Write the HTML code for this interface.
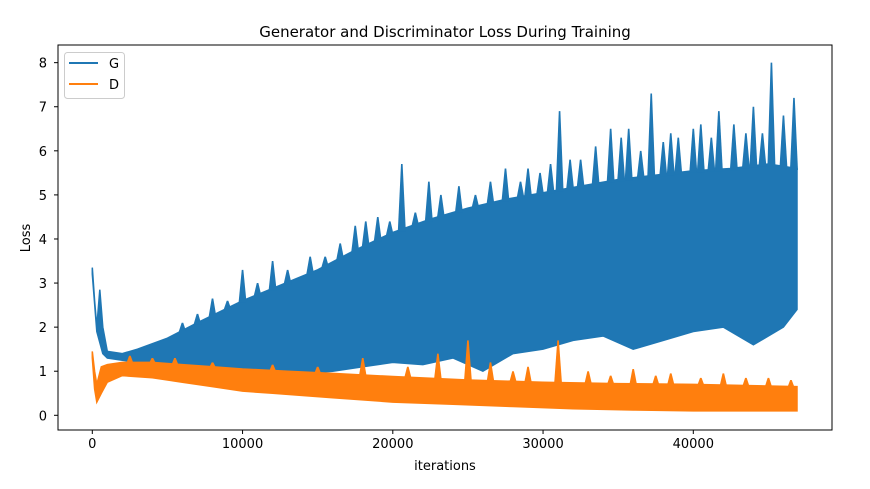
<!DOCTYPE html>
<html><head><meta charset="utf-8"><style>
body{margin:0;background:#fff;}
svg text{font-family:"DejaVu Sans","Liberation Sans",sans-serif;fill:#000;}
</style></head><body>
<svg width="870" height="484" viewBox="0 0 870 484">
<rect x="0" y="0" width="870" height="484" fill="#fff"/>
<g id="plot"></g>
<rect x="58" y="45" width="774" height="385" fill="none" stroke="#000" stroke-width="1"/>
<g id="ticks"></g>
<text x="445" y="37" font-size="15" text-anchor="middle">Generator and Discriminator Loss During Training</text>
<text x="445" y="470" font-size="13" text-anchor="middle">iterations</text>
<text x="30" y="238" font-size="13" text-anchor="middle" transform="rotate(-90 30 238)">Loss</text>
<g>
<rect x="64.5" y="52.5" width="60" height="46" rx="3" fill="#fff" fill-opacity="0.8" stroke="#ccc"/>
<g><line x1="69" y1="63" x2="98" y2="63" stroke="#1f77b4" stroke-width="2"/><text x="109" y="68" font-size="13">G</text></g>
<g><line x1="69" y1="84" x2="98" y2="84" stroke="#ff7f0e" stroke-width="2"/><text x="109" y="89" font-size="13">D</text></g>
</g>
</svg>
<script>
const xTicks=[0,10000,20000,30000,40000];
const yTicks=[0,1,2,3,4,5,6,7,8];
const gTopIter=[0,150,300,500,700,1000,2000,3000,5000,7000,10000,12500,15000,17500,20000,22500,25000,27500,30000,32500,35000,37500,40000,42500,45000,46900];
const gTop=[3.35,2.6,2.0,2.85,2.0,1.45,1.4,1.5,1.75,2.1,2.6,2.95,3.3,3.75,4.15,4.45,4.7,4.9,5.05,5.2,5.35,5.45,5.55,5.6,5.7,5.6];
const gMinIter=[0,300,700,1000,2000,3000,4000,5000,6000,7000,8000,10000,12000,14000,16000,18000,20000,22000,24000,26000,28000,30000,32000,34000,36000,38000,40000,42000,44000,46000,46900];
const gMin=[3.2,1.9,1.4,1.3,1.25,1.2,1.1,1.0,0.9,0.85,0.8,0.8,0.85,0.95,1.0,1.1,1.2,1.15,1.3,1.0,1.4,1.5,1.7,1.8,1.5,1.7,1.9,2.0,1.6,2.0,2.4];
const gSpikeIter=[6000,7000,8000,9000,10000,11000,12000,13000,14500,15500,16500,17500,18200,19000,19800,20600,21500,22400,23200,24400,25500,26500,27500,28500,29000,29800,30500,31100,31800,32500,33500,34500,35200,35700,36500,37200,38000,38500,39000,40000,40500,41200,41700,42700,43500,44000,44600,45200,46000,46700];
const gSpike=[2.1,2.3,2.65,2.6,3.3,3.0,3.5,3.3,3.6,3.6,3.9,4.3,4.4,4.5,4.4,5.7,4.6,5.3,5.0,5.2,5.0,5.3,5.6,5.3,5.6,5.5,5.7,6.9,5.8,5.8,6.1,6.5,6.3,6.5,6.0,7.3,6.2,6.4,6.3,6.5,6.6,6.3,6.9,6.6,6.4,7.0,6.4,8.0,6.8,7.2];
const dTopIter=[0,150,300,600,1000,2000,4000,6000,8000,10000,13000,16000,20000,25000,30000,35000,40000,46900];
const dTop=[1.45,1.0,0.7,1.1,1.15,1.2,1.2,1.15,1.1,1.05,1.0,0.95,0.88,0.8,0.75,0.72,0.7,0.65];
const dMinIter=[0,150,300,600,1000,2000,4000,6000,8000,10000,12000,14000,16000,18000,20000,24000,28000,32000,36000,40000,44000,46900];
const dMin=[1.3,0.6,0.3,0.5,0.75,0.9,0.85,0.75,0.65,0.55,0.5,0.45,0.4,0.35,0.3,0.25,0.2,0.15,0.12,0.1,0.1,0.1];
const dSpikeIter=[2500,4000,5500,8000,12000,15000,18000,21000,23000,25000,26500,28000,29000,31000,33000,34500,36000,37500,38500,40500,42000,43500,45000,46500];
const dSpike=[1.35,1.3,1.3,1.2,1.15,1.1,1.3,1.1,1.4,1.7,1.2,1.0,1.1,1.7,1.0,0.9,1.05,0.9,0.95,0.85,0.95,0.85,0.85,0.8];
const X=v=>92.3+v*0.015025;
const Y=v=>415.3-v*44.08;
const NS="http://www.w3.org/2000/svg";
const plot=document.getElementById('plot');
function band(ti,tv,bi,bv,color,name){
  let d='M'+ti.map((t,i)=>X(t).toFixed(1)+','+Y(tv[i]).toFixed(1)).join('L');
  for(let i=bi.length-1;i>=0;i--) d+='L'+X(bi[i]).toFixed(1)+','+Y(bv[i]).toFixed(1);
  d+='Z';
  const p=document.createElementNS(NS,'path');
  p.setAttribute('d',d);p.setAttribute('fill',color);p.setAttribute('stroke',color);p.setAttribute('stroke-width','1.5');
  
  
  plot.appendChild(p);
}
function spikes(si,sv,ti,tv,color,name){
  const interp=x=>{for(let i=1;i<ti.length;i++){if(x<=ti[i]){const f=(x-ti[i-1])/(ti[i]-ti[i-1]);return tv[i-1]+f*(tv[i]-tv[i-1]);}}return tv[tv.length-1];};
  si.forEach((t,i)=>{
    const base=Y(interp(t))+2;
    const p=document.createElementNS(NS,'path');
    p.setAttribute('d',`M${X(t)-4},${base}L${X(t)-0.8},${Y(sv[i])}L${X(t)+0.8},${Y(sv[i])}L${X(t)+4},${base}Z`);
    p.setAttribute('fill',color);
    
    
    plot.appendChild(p);
  });
}
band(gTopIter,gTop,gMinIter,gMin,'#1f77b4','g-loss-series');
spikes(gSpikeIter,gSpike,gTopIter,gTop,'#1f77b4','g-loss-spike');
band(dTopIter,dTop,dMinIter,dMin,'#ff7f0e','d-loss-series');
spikes(dSpikeIter,dSpike,dTopIter,dTop,'#ff7f0e','d-loss-spike');
const tk=document.getElementById('ticks');
xTicks.forEach(v=>{
  const g=document.createElementNS(NS,'g');
  
  
  g.innerHTML=`<line x1="${X(v)}" y1="430" x2="${X(v)}" y2="434" stroke="#000"/><text x="${X(v)}" y="448" font-size="13" text-anchor="middle">${v}</text>`;
  tk.appendChild(g);
});
yTicks.forEach(v=>{
  const g=document.createElementNS(NS,'g');
  
  
  g.innerHTML=`<line x1="54" y1="${Y(v)}" x2="58" y2="${Y(v)}" stroke="#000"/><text x="47" y="${Y(v)+5}" font-size="13" text-anchor="end">${v}</text>`;
  tk.appendChild(g);
});
</script>
</body></html>
